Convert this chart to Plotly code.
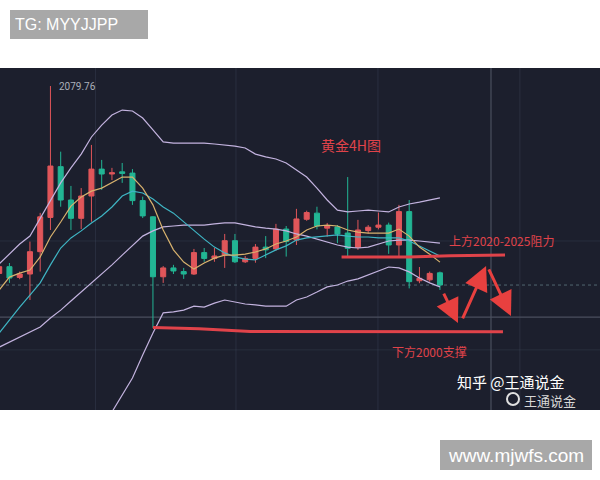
import plotly.graph_objects as go

# ---- data (gold 4H candles) ----
idx = list(range(44))
opens = [2018.5, 2020.7, 2017.2, 2018.3, 2025.6, 2036.8, 2053.4, 2042.5, 2036.5, 2043.8, 2052.6, 2051.0, 2051.7, 2051.3, 2042.3, 2037.0, 2017.4, 2020.3, 2019.1, 2018.3, 2025.3, 2023.4, 2024.5, 2029.2, 2022.3, 2023.4, 2027.1, 2026.5, 2033.0, 2029.4, 2036.2, 2038.2, 2033.3, 2033.7, 2031.7, 2027.0, 2032.5, 2033.6, 2034.3, 2027.8, 2038.7, 2016.1, 2016.4, 2018.7]
highs = [2021.9, 2021.9, 2019.1, 2028.9, 2038.3, 2079.76, 2058.3, 2047.1, 2046.4, 2060.5, 2055.6, 2053.0, 2054.6, 2052.6, 2043.6, 2037.2, 2020.9, 2021.3, 2020.3, 2026.5, 2026.8, 2026.8, 2031.4, 2031.4, 2024.2, 2028.1, 2030.7, 2034.7, 2034.0, 2039.6, 2039.0, 2040.3, 2035.0, 2034.3, 2050.0, 2036.0, 2034.3, 2038.4, 2035.1, 2040.9, 2042.5, 2020.6, 2019.1, 2019.1]
lows = [2017.7, 2015.4, 2016.6, 2009.8, 2019.1, 2032.7, 2040.3, 2032.7, 2033.0, 2035.4, 2045.8, 2049.0, 2048.1, 2040.9, 2036.6, 2000.7, 2015.4, 2018.3, 2016.7, 2018.0, 2022.3, 2022.3, 2020.3, 2021.9, 2021.9, 2022.0, 2023.5, 2025.9, 2024.0, 2027.8, 2035.7, 2032.9, 2030.5, 2028.4, 2024.0, 2026.2, 2031.6, 2032.9, 2024.9, 2024.2, 2013.6, 2015.3, 2015.8, 2013.1]
closes = [2020.7, 2017.0, 2018.3, 2025.6, 2037.0, 2053.6, 2042.5, 2036.5, 2043.8, 2052.6, 2051.0, 2051.4, 2051.2, 2042.3, 2037.3, 2017.4, 2020.3, 2019.3, 2018.3, 2025.3, 2023.4, 2024.2, 2029.2, 2022.3, 2023.4, 2027.1, 2026.2, 2033.0, 2028.9, 2036.3, 2038.4, 2034.0, 2034.0, 2031.4, 2026.7, 2032.7, 2033.6, 2034.3, 2027.8, 2038.7, 2015.8, 2016.9, 2018.5, 2014.7]

boll_upper = [2021.6, 2024.8, 2028.1, 2030.7, 2036.6, 2042.5, 2048.1, 2053.0, 2057.5, 2063.1, 2067.0, 2070.3, 2071.9, 2071.6, 2069.3, 2065.4, 2061.5, 2061.1, 2061.1, 2061.1, 2061.1, 2060.8, 2060.5, 2060.1, 2059.5, 2057.5, 2056.6, 2055.9, 2054.6, 2052.3, 2050.0, 2046.4, 2042.5, 2039.2, 2038.6, 2038.9, 2039.2, 2038.9, 2038.6, 2040.2, 2041.2, 2041.8, 2042.5, 2043.2]
boll_mid = [1994.4, 1996.1, 1997.7, 1999.3, 2001.0, 2003.9, 2006.5, 2009.5, 2012.4, 2015.4, 2018.3, 2021.3, 2024.5, 2027.5, 2030.7, 2032.4, 2033.7, 2034.0, 2034.3, 2034.3, 2034.3, 2034.7, 2035.0, 2035.0, 2034.3, 2033.7, 2033.3, 2033.0, 2032.4, 2031.4, 2030.7, 2029.7, 2028.8, 2027.8, 2027.1, 2026.8, 2027.1, 2028.1, 2029.1, 2029.4, 2029.4, 2029.1, 2028.8, 2028.4]
boll_lower = [1965.3, 1965.7, 1966.0, 1966.0, 1965.3, 1964.7, 1964.7, 1965.3, 1966.0, 1967.3, 1969.3, 1973.2, 1978.8, 1984.3, 1991.8, 1999.0, 2005.6, 2005.9, 2006.5, 2007.8, 2007.5, 2008.8, 2009.8, 2009.2, 2008.5, 2008.2, 2007.8, 2007.8, 2007.8, 2009.8, 2010.8, 2012.4, 2014.1, 2014.7, 2016.0, 2016.7, 2018.0, 2019.3, 2020.6, 2020.3, 2019.0, 2017.0, 2015.4, 2014.1]
ma_fast = [2013.1, 2017.3, 2018.6, 2019.6, 2023.9, 2030.4, 2035.3, 2040.5, 2043.5, 2045.4, 2046.4, 2048.1, 2050.0, 2050.0, 2046.4, 2040.9, 2032.7, 2026.2, 2022.2, 2019.9, 2021.9, 2023.5, 2024.5, 2024.5, 2024.8, 2025.5, 2026.5, 2028.1, 2029.1, 2030.4, 2032.7, 2034.0, 2034.3, 2034.0, 2032.7, 2032.0, 2031.7, 2031.7, 2031.7, 2033.0, 2030.7, 2027.1, 2024.8, 2022.2]
ma_slow = [1999.0, 2003.3, 2007.5, 2011.4, 2015.4, 2021.3, 2026.8, 2030.1, 2032.4, 2035.0, 2037.3, 2040.2, 2043.8, 2045.4, 2044.8, 2042.8, 2040.2, 2038.2, 2035.3, 2032.7, 2029.7, 2027.1, 2025.2, 2023.9, 2023.2, 2022.9, 2024.5, 2026.2, 2027.5, 2029.4, 2030.1, 2030.4, 2030.7, 2031.1, 2030.7, 2030.4, 2030.4, 2030.1, 2030.1, 2030.1, 2029.1, 2027.5, 2025.8, 2024.2]

# drawn levels
resist_x = [33.4, 40.0, 44.0, 49.35]
resist_y = [2023.9, 2023.9, 2024.3, 2024.5]
support_x = [15.0, 19.5, 24.5, 49.15]
support_y = [2000.8, 2000.4, 1999.5, 1999.4]
high_label = "2079.76"

RED = "#e0565a"
GREEN = "#22b594"
ANN = "#e0434a"
BAND = "#c3b3df"

fig = go.Figure()

# faint grid
for gx in [9.4, 23.1, 36.95, 50.8]:
    fig.add_shape(type="line", xref="x", yref="paper", x0=gx, x1=gx, y0=0, y1=1,
                  line=dict(color="rgba(70,78,98,0.35)", width=1), layer="below")
for gy in [2029.1, 1993.5]:
    fig.add_shape(type="line", xref="paper", yref="y", x0=0, x1=1, y0=gy, y1=gy,
                  line=dict(color="rgba(70,78,98,0.3)", width=1), layer="below")
# dotted & crosshair lines
fig.add_shape(type="line", xref="paper", yref="y", x0=0, x1=1, y0=2014.7, y1=2014.7,
              line=dict(color="rgba(95,120,130,0.8)", width=1, dash="dot"), layer="below")
fig.add_shape(type="line", xref="paper", yref="y", x0=0, x1=1, y0=2004.2, y1=2004.2,
              line=dict(color="#4a4f5e", width=1.2), layer="below")
fig.add_shape(type="line", xref="x", yref="paper", x0=47.98, x1=47.98, y0=0, y1=1,
              line=dict(color="#4a4f5e", width=1.2), layer="below")

for ys, col in [(boll_upper, BAND), (boll_mid, BAND), (boll_lower, BAND),
                (ma_slow, "#3fb5c4"), (ma_fast, "#d8b26e")]:
    fig.add_trace(go.Scatter(x=idx, y=ys, mode="lines", line=dict(color=col, width=1.2),
                             hoverinfo="skip", showlegend=False))

fig.add_trace(go.Candlestick(
    x=idx, open=opens, high=highs, low=lows, close=closes,
    increasing=dict(line=dict(color=RED, width=1), fillcolor=RED),
    decreasing=dict(line=dict(color=GREEN, width=1), fillcolor=GREEN),
    whiskerwidth=0, showlegend=False))

fig.add_trace(go.Scatter(x=resist_x, y=resist_y, mode="lines",
                         line=dict(color=ANN, width=3), hoverinfo="skip", showlegend=False))
fig.add_trace(go.Scatter(x=support_x, y=support_y, mode="lines",
                         line=dict(color=ANN, width=3), hoverinfo="skip", showlegend=False))

annotations = []
cjk = "Noto Sans CJK SC"
annotations.append(dict(x=5, y=2079.76, xref="x", yref="y", text=high_label, showarrow=False,
                        xanchor="left", yanchor="middle", xshift=7,
                        font=dict(size=10, color="#aab0ba", family="Roboto")))
annotations.append(dict(x=34.3, y=2060.5, xref="x", yref="y", text="黄金4H图", showarrow=False,
                        xanchor="center", yanchor="middle",
                        font=dict(size=14, color=ANN, family=cjk)))
annotations.append(dict(x=48.96, y=2029.4, xref="x", yref="y", text="上方2020-2025阻力", showarrow=False,
                        xanchor="center", yanchor="middle",
                        font=dict(size=12, color=ANN, family=cjk)))
annotations.append(dict(x=42.0, y=1993.1, xref="x", yref="y", text="下方2000支撑", showarrow=False,
                        xanchor="center", yanchor="middle",
                        font=dict(size=12, color=ANN, family=cjk)))
# zig-zag arrows
for (tx, ty, hx, hy) in [(43.3, 2012.4, 44.76, 2002.3), (45.15, 2003.3, 47.5, 2020.9),
                         (47.7, 2020.3, 49.93, 2004.6)]:
    annotations.append(dict(x=hx, y=hy, ax=tx, ay=ty, xref="x", yref="y", axref="x", ayref="y",
                            text="", showarrow=True, arrowhead=2, arrowsize=1.6, arrowwidth=3,
                            arrowcolor="#e8403f"))
# watermarks
annotations.append(dict(x=455 / 600, y=(410 - 381) / 342, xref="paper", yref="paper",
                        text="知乎 @王通说金", showarrow=False, xanchor="left", yanchor="middle",
                        font=dict(size=15, color="#ffffff", family=cjk)))
annotations.append(dict(x=522 / 600, y=(410 - 400) / 342, xref="paper", yref="paper",
                        text="王通说金", showarrow=False, xanchor="left", yanchor="middle",
                        font=dict(size=13, color="#d8d8d8", family=cjk)))
annotations.append(dict(x=13 / 600, y=(410 - 24.5) / 342, xref="paper", yref="paper",
                        text="TG: MYYJJPP", showarrow=False, xanchor="left", yanchor="middle",
                        font=dict(size=16, color="#ffffff", family="Liberation Sans")))
annotations.append(dict(x=516 / 600, y=(410 - 455) / 342, xref="paper", yref="paper",
                        text="www.mjwfs.com", showarrow=False, xanchor="center", yanchor="middle",
                        font=dict(size=19, color="#ffffff", family="Liberation Sans")))

shapes_extra = [
    dict(type="rect", xref="paper", yref="paper", x0=10 / 600, x1=148 / 600,
         y0=(410 - 39) / 342, y1=(410 - 10) / 342, fillcolor="#a8a8a8", line=dict(width=0)),
    dict(type="rect", xref="paper", yref="paper", x0=440 / 600, x1=592 / 600,
         y0=(410 - 470) / 342, y1=(410 - 440) / 342, fillcolor="#a8a8a8", line=dict(width=0)),
    dict(type="circle", xref="paper", yref="paper", x0=507 / 600, x1=519 / 600,
         y0=(410 - 405) / 342, y1=(410 - 393) / 342, fillcolor="rgba(0,0,0,0)",
         line=dict(color="#e0e0e0", width=2)),
]
for s in shapes_extra:
    fig.add_shape(**s)

fig.update_layout(
    width=600, height=480, autosize=False,
    margin=dict(l=0, r=0, t=68, b=70),
    paper_bgcolor="#ffffff", plot_bgcolor="#1c1f2d",
    showlegend=False, annotations=annotations,
    xaxis=dict(range=[0.078, 58.615], visible=False, showgrid=False, zeroline=False,
               rangeslider=dict(visible=False), fixedrange=True),
    yaxis=dict(range=[1973.85, 2085.65], visible=False, showgrid=False, zeroline=False,
               fixedrange=True),
)

fig.write_html("out.html", config={"displayModeBar": False},
               post_script="document.body.style.margin='0';")
